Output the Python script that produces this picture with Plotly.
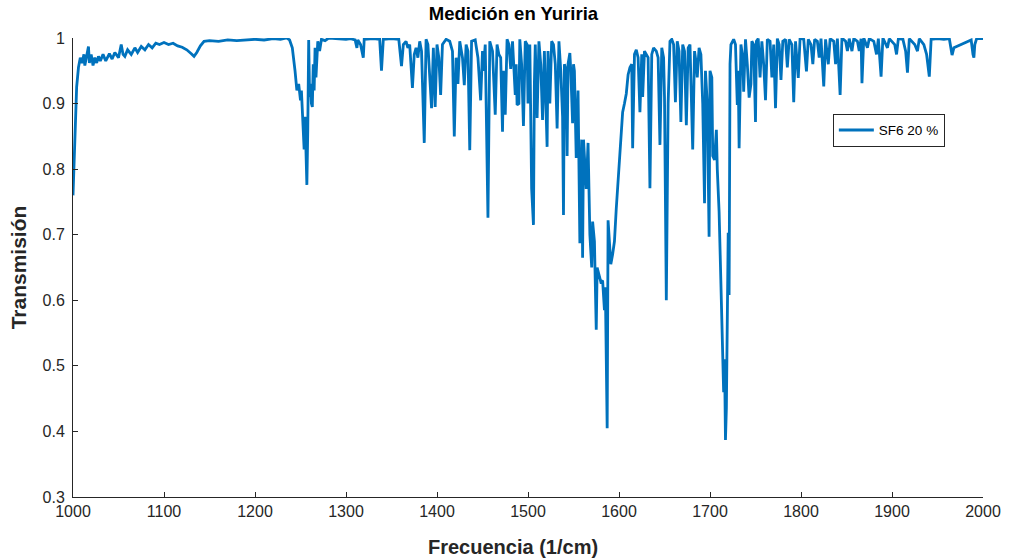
import plotly.graph_objects as go

# Transmission spectrum (frequency in 1/cm, transmission) split into bands
banda_1000_1240 = [
    (1000, 0.76), (1002, 0.86), (1004, 0.925), (1006, 0.955), (1008, 0.97),
    (1010, 0.962), (1012, 0.975), (1013, 0.958), (1015, 0.972), (1017, 0.987),
    (1018, 0.962), (1020, 0.975), (1022, 0.958), (1024, 0.97), (1026, 0.962),
    (1028, 0.972), (1030, 0.965), (1033, 0.975), (1036, 0.965), (1040, 0.976),
    (1043, 0.968), (1046, 0.978), (1050, 0.97), (1053, 0.99), (1055, 0.975),
    (1057, 0.972), (1060, 0.982), (1064, 0.975), (1068, 0.985), (1071, 0.978),
    (1075, 0.987), (1079, 0.982), (1083, 0.99), (1087, 0.985), (1091, 0.992),
    (1095, 0.99), (1100, 0.993), (1105, 0.99), (1110, 0.992), (1115, 0.988),
    (1120, 0.986), (1125, 0.982), (1130, 0.976), (1133, 0.972), (1136, 0.978),
    (1140, 0.988), (1144, 0.995), (1150, 0.996), (1160, 0.995), (1170, 0.997),
    (1180, 0.996), (1190, 0.997), (1200, 0.998), (1210, 0.997), (1220, 0.999),
    (1228, 0.998), (1235, 1.0), (1238, 0.997),
]

banda_1240_1400 = [
    (1241, 0.985), (1244, 0.95), (1246, 0.92), (1248, 0.93), (1250, 0.905),
    (1251, 0.92), (1253, 0.87), (1254, 0.83), (1255, 0.88), (1256, 0.82),
    (1257, 0.776), (1258, 0.86), (1259, 0.997), (1260, 0.91), (1261, 0.93),
    (1262, 0.9), (1263, 0.895), (1264, 0.96), (1265, 0.92), (1266, 0.985),
    (1267, 0.94), (1269, 0.995), (1271, 0.98), (1273, 0.998), (1277, 0.996),
    (1281, 1.0), (1290, 0.999), (1300, 0.998), (1305, 0.999), (1310, 0.997),
    (1312, 0.985), (1313, 0.997), (1316, 0.99), (1319, 0.97), (1320, 0.998),
    (1330, 0.999), (1337, 0.998), (1339, 0.95), (1341, 0.998), (1350, 0.999),
    (1358, 0.998), (1361, 0.957), (1363, 0.99), (1366, 0.995), (1368, 0.985),
    (1370, 0.99), (1373, 0.924), (1375, 0.975), (1377, 0.985), (1379, 0.97),
    (1381, 0.995), (1383, 0.98), (1386, 0.84), (1388, 0.998), (1390, 0.99),
    (1392, 0.93), (1394, 0.893), (1396, 0.985), (1398, 0.895), (1400, 0.99),
]

banda_1400_1535 = [
    (1402, 0.97), (1404, 0.913), (1406, 0.99), (1410, 0.998), (1414, 0.995),
    (1417, 0.98), (1419, 0.85), (1421, 0.97), (1423, 0.93), (1425, 0.995),
    (1428, 0.97), (1430, 0.928), (1432, 0.99), (1434, 0.98), (1436, 0.829),
    (1438, 0.995), (1442, 0.997), (1445, 0.97), (1448, 0.905), (1450, 0.98),
    (1451, 0.95), (1453, 0.99), (1456, 0.726), (1458, 0.995), (1461, 0.98),
    (1464, 0.883), (1466, 0.99), (1468, 0.975), (1470, 0.97), (1472, 0.857),
    (1473, 0.95), (1475, 0.883), (1477, 0.998), (1479, 0.99), (1481, 0.953),
    (1483, 0.995), (1486, 0.913), (1487, 0.96), (1488, 0.898), (1490, 0.9),
    (1491, 0.998), (1493, 0.96), (1495, 0.866), (1497, 0.995), (1499, 0.99),
    (1500, 0.9), (1502, 0.99), (1504, 0.77), (1506, 0.715), (1507, 0.93),
    (1508, 0.99), (1510, 0.878), (1512, 0.995), (1514, 0.96), (1516, 0.875),
    (1518, 0.98), (1519, 0.93), (1521, 0.834), (1522, 0.98), (1524, 0.9),
    (1526, 0.995), (1528, 0.99), (1530, 0.96), (1532, 0.862), (1534, 0.995),
]

banda_1535_1722 = [
    (1536, 0.95), (1538, 0.88), (1539, 0.73), (1540, 0.96), (1542, 0.95),
    (1543, 0.82), (1544, 0.96), (1546, 0.977), (1547, 0.95), (1549, 0.87),
    (1550, 0.96), (1551, 0.95), (1553, 0.817), (1555, 0.92), (1557, 0.687),
    (1559, 0.845), (1560, 0.665), (1561, 0.845), (1563, 0.80), (1564, 0.77),
    (1566, 0.84), (1568, 0.70), (1570, 0.65), (1571, 0.72), (1573, 0.69),
    (1575, 0.555), (1576, 0.65), (1578, 0.64), (1580, 0.628), (1582, 0.63),
    (1584, 0.585), (1585, 0.62), (1587, 0.405), (1588, 0.722), (1589, 0.70),
    (1591, 0.655), (1593, 0.67), (1595, 0.69), (1597, 0.74), (1600, 0.80),
    (1602, 0.85), (1604, 0.887), (1606, 0.9), (1608, 0.915), (1610, 0.944),
    (1612, 0.955), (1614, 0.96), (1615, 0.832), (1617, 0.975), (1619, 0.982),
    (1621, 0.97), (1623, 0.887), (1625, 0.975), (1626, 0.91), (1628, 0.98),
    (1630, 0.975), (1632, 0.97), (1634, 0.771), (1636, 0.975), (1638, 0.985),
    (1641, 0.98), (1643, 0.97), (1645, 0.837), (1647, 0.985), (1649, 0.97),
    (1650, 0.91), (1652, 0.60), (1654, 0.9), (1656, 0.995), (1658, 0.998),
    (1660, 0.99), (1662, 0.902), (1664, 0.995), (1666, 0.98), (1668, 0.872),
    (1670, 0.99), (1672, 0.98), (1674, 0.867), (1676, 0.985), (1678, 0.99),
    (1680, 0.85), (1681, 0.83), (1683, 0.98), (1685, 0.96), (1686, 0.94),
    (1688, 0.985), (1690, 0.975), (1692, 0.9), (1694, 0.748), (1695, 0.95),
    (1697, 0.9), (1699, 0.697), (1700, 0.95), (1702, 0.94), (1703, 0.82),
    (1705, 0.814), (1707, 0.86), (1708, 0.80), (1710, 0.735), (1712, 0.62),
    (1714, 0.486), (1715, 0.46), (1716, 0.51), (1717, 0.387), (1718, 0.436),
    (1719, 0.55), (1720, 0.703), (1721, 0.608), (1722, 0.96),
]

banda_1722_2000 = [
    (1723, 0.99), (1726, 0.998), (1728, 0.99), (1730, 0.898), (1731, 0.95),
    (1732, 0.832), (1734, 0.99), (1736, 0.97), (1737, 0.918), (1739, 0.998),
    (1741, 0.96), (1743, 0.909), (1745, 0.93), (1746, 0.995), (1748, 0.99),
    (1750, 0.872), (1751, 0.995), (1753, 0.999), (1755, 0.94), (1757, 0.995),
    (1759, 0.96), (1761, 0.905), (1763, 0.998), (1766, 0.995), (1768, 0.94),
    (1770, 0.99), (1772, 0.893), (1774, 0.999), (1776, 0.99), (1778, 0.936),
    (1780, 0.995), (1783, 0.998), (1785, 0.955), (1787, 0.998), (1790, 0.99),
    (1792, 0.902), (1794, 0.995), (1797, 0.939), (1799, 1.0), (1803, 0.998),
    (1806, 0.949), (1808, 0.998), (1811, 0.99), (1813, 0.96), (1815, 0.998),
    (1818, 0.995), (1820, 0.97), (1822, 0.999), (1825, 0.926), (1827, 0.998),
    (1830, 0.96), (1832, 0.999), (1836, 0.995), (1838, 0.96), (1840, 0.999),
    (1843, 0.913), (1845, 1.0), (1849, 0.995), (1851, 0.98), (1853, 0.999),
    (1856, 0.98), (1858, 0.999), (1862, 0.995), (1864, 0.98), (1866, 0.999),
    (1867, 0.931), (1869, 1.0), (1873, 0.985), (1875, 0.999), (1880, 0.995),
    (1883, 0.975), (1885, 0.999), (1888, 0.941), (1890, 1.0), (1895, 0.985),
    (1897, 0.999), (1903, 0.99), (1905, 0.975), (1907, 0.999), (1912, 0.998),
    (1915, 0.98), (1917, 0.947), (1919, 0.999), (1925, 0.99), (1928, 0.98),
    (1930, 0.999), (1935, 0.99), (1938, 0.975), (1941, 0.941), (1943, 0.998),
    (1950, 0.999), (1957, 0.998), (1963, 0.999), (1966, 0.974), (1968, 0.985),
    (1987, 0.997), (1989, 0.975), (1990, 0.97), (1991, 0.99), (1993, 0.999),
    (2000, 0.999),
]

x_ticks = [1000, 1100, 1200, 1300, 1400, 1500, 1600, 1700, 1800, 1900, 2000]
y_ticks = [0.3, 0.4, 0.5, 0.6, 0.7, 0.8, 0.9, 1.0]
y_tick_labels = ["0.3", "0.4", "0.5", "0.6", "0.7", "0.8", "0.9", "1"]

espectro = (banda_1000_1240 + banda_1240_1400 + banda_1400_1535
            + banda_1535_1722 + banda_1722_2000)
frecuencia = [p[0] for p in espectro]
transmision = [p[1] for p in espectro]

AXIS_COLOR = "#262626"
FONT = "Liberation Sans, Arial, Helvetica, sans-serif"

fig = go.Figure()
fig.add_trace(go.Scatter(
    x=frecuencia, y=transmision, mode="lines", name="SF6 20 %",
    line=dict(color="#0072BD", width=2.8),
))

fig.update_layout(
    width=1013, height=559,
    margin=dict(l=73, r=22, t=38, b=62),
    paper_bgcolor="white", plot_bgcolor="white",
    font=dict(family=FONT, color=AXIS_COLOR, size=16),
    title=dict(text="<b>Medición en Yuriria</b>", x=0.484, xref="paper",
               xanchor="center", y=1, yref="container", yanchor="top",
               pad=dict(t=7),
               font=dict(size=18.5, color="black", family=FONT)),
    showlegend=True,
    legend=dict(x=0.835, y=0.835, xanchor="left", yanchor="top",
                bgcolor="white", bordercolor=AXIS_COLOR, borderwidth=1,
                font=dict(size=13.5, color="black", family=FONT),
                itemwidth=35, tracegroupgap=0),
    annotations=[dict(
        text="<b>Frecuencia (1/cm)</b>", xref="paper", yref="paper",
        x=0.484, y=0, xanchor="center", yanchor="top", yshift=-37,
        showarrow=False, font=dict(size=20, color=AXIS_COLOR, family=FONT),
    )],
)

fig.update_xaxes(
    range=[1000, 2000], tickvals=x_ticks,
    ticktext=[str(v) for v in x_ticks],
    showgrid=False, zeroline=False, showline=True, linecolor=AXIS_COLOR,
    linewidth=1, ticks="inside", ticklen=5, tickcolor=AXIS_COLOR,
    tickfont=dict(size=16, color=AXIS_COLOR),
)
fig.update_yaxes(
    range=[0.3, 1.0], tickvals=y_ticks, ticktext=y_tick_labels,
    showgrid=False, zeroline=False, showline=True, linecolor=AXIS_COLOR,
    linewidth=1, ticks="inside", ticklen=5, tickcolor=AXIS_COLOR,
    tickfont=dict(size=16, color=AXIS_COLOR), ticklabelstandoff=4,
    title=dict(text="<b>Transmisión</b>", standoff=10,
               font=dict(size=21, color=AXIS_COLOR)),
)

fig.write_html("out.html")
